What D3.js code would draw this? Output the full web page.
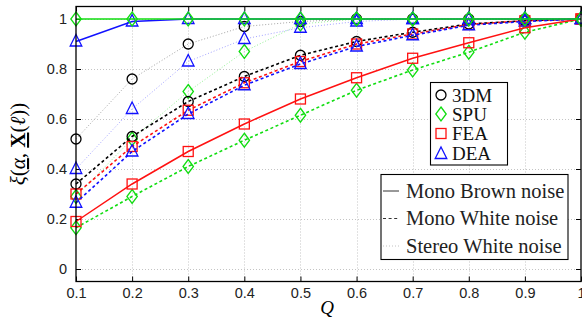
<!DOCTYPE html>
<html>
<head>
<meta charset="utf-8">
<script src="https://cdn.jsdelivr.net/npm/d3@7"></script>
<style>
  html, body { margin: 0; padding: 0; background: #fff; }
  svg { display: block; }
</style>
</head>
<body>
<svg id="chart" width="582" height="321"></svg>
<script>
// Quality factor Q on the x axis
const qValues = [0.1, 0.2, 0.3, 0.4, 0.5, 0.6, 0.7, 0.8, 0.9, 1.0];
const xTicks = [0.1, 0.2, 0.3, 0.4, 0.5, 0.6, 0.7, 0.8, 0.9, 1.0];
const yTicks = [0, 0.2, 0.4, 0.6, 0.8, 1];

const methods = ["3DM", "SPU", "FEA", "DEA"];
const methodColors = { "3DM": "#000000", "SPU": "#11dd11", "FEA": "#ff1111", "DEA": "#1111ff" };
const stereoColors = { "3DM": "#9a9a9a", "SPU": "#88ee88", "FEA": "#ff9999", "DEA": "#9999ff" };
const noiseTypes = ["Mono Brown noise", "Mono White noise", "Stereo White noise"];

// Mono Brown noise
const brownSPU = [1, 1, 1, 1, 1, 1, 1, 1, 1, 1];
const brownFEA = [0.19, 0.34, 0.47, 0.58, 0.68, 0.765, 0.843, 0.905, 0.965, 1];
const brownDEA = [0.91, 0.99, 1, 1, 1, 1, 1, 1, 1, 1];

// Mono White noise
const white3DM = [0.34, 0.53, 0.67, 0.77, 0.855, 0.91, 0.947, 0.98, 0.993, 1];
const whiteSPU = [0.165, 0.29, 0.41, 0.515, 0.615, 0.715, 0.796, 0.867, 0.947, 1];
const whiteFEA = [0.30, 0.49, 0.635, 0.745, 0.83, 0.90, 0.94, 0.978, 0.993, 1];
const whiteDEA = [0.265, 0.47, 0.62, 0.735, 0.82, 0.89, 0.935, 0.975, 0.99, 1];

// Stereo White noise
const stereo3DM = [0.52, 0.76, 0.90, 0.97, 0.99, 1, 1, 1, 1, 1];
const stereoSPU = [0.29, 0.52, 0.71, 0.87, 0.98, 1, 1, 1, 1, 1];
const stereoDEA = [0.40, 0.64, 0.83, 0.92, 0.965, 0.99, 1, 1, 1, 1];

const series = [
  { method: "3DM", noise: 2, values: stereo3DM },
  { method: "SPU", noise: 2, values: stereoSPU },
  { method: "DEA", noise: 2, values: stereoDEA },
  { method: "3DM", noise: 1, values: white3DM },
  { method: "SPU", noise: 1, values: whiteSPU },
  { method: "FEA", noise: 1, values: whiteFEA },
  { method: "DEA", noise: 1, values: whiteDEA },
  { method: "FEA", noise: 0, values: brownFEA },
  { method: "DEA", noise: 0, values: brownDEA },
  { method: "SPU", noise: 0, values: brownSPU }
];

const lineStyles = [
  { width: 1.5, dash: null },
  { width: 1.6, dash: "3,2.6" },
  { width: 0.9, dash: "1,2" }
];

const svg = d3.select("#chart");
const plotL = 76, plotR = 581, plotT = 6.5, plotB = 281.5;

const x = d3.scaleLinear().domain([0.1, 1]).range([plotL, plotR]);
const y = d3.scaleLinear().domain([-0.05, 1.05]).range([plotB, plotT]);
const fmt = d => String(+d.toFixed(1));

// grid
const grid = svg.append("g").attr("stroke", "#c4c4c4").attr("stroke-width", 1).attr("stroke-dasharray", "1,2");
grid.selectAll("line.gx").data(xTicks.slice(1, -1)).join("line")
  .attr("x1", d => Math.round(x(d)) + 0.5).attr("x2", d => Math.round(x(d)) + 0.5)
  .attr("y1", plotT).attr("y2", plotB);
grid.selectAll("line.gy").data(yTicks).join("line")
  .attr("y1", d => Math.round(y(d)) + 0.5).attr("y2", d => Math.round(y(d)) + 0.5)
  .attr("x1", plotL).attr("x2", plotR);

// axes with inward ticks on all four sides
const axisFont = "'Liberation Sans', Arial, sans-serif";
const yAxis = svg.append("g").attr("transform", `translate(${plotL},0)`)
  .call(d3.axisLeft(y).tickValues(yTicks).tickFormat(fmt).tickSize(-5).tickPadding(9));
const xAxis = svg.append("g").attr("transform", `translate(0,${plotB})`)
  .call(d3.axisBottom(x).tickValues(xTicks).tickFormat(fmt).tickSize(-5).tickPadding(6));
const yAxisR = svg.append("g").attr("transform", `translate(${plotR},0)`)
  .call(d3.axisRight(y).tickValues(yTicks).tickFormat("").tickSize(-5));
const xAxisT = svg.append("g").attr("transform", `translate(0,${plotT})`)
  .call(d3.axisTop(x).tickValues(xTicks).tickFormat("").tickSize(-5));
[yAxis, xAxis, yAxisR, xAxisT].forEach(a => {
  a.select(".domain").remove();
  a.selectAll(".tick line").attr("stroke", "#000").attr("stroke-width", 1);
  a.selectAll("text").attr("font-family", axisFont).attr("font-size", 14.5).attr("fill", "#222");
});

// marker shapes
function drawMarker(g, method, cx, cy, color) {
  const sw = 1.3;
  if (method === "3DM") {
    g.append("circle").attr("cx", cx).attr("cy", cy).attr("r", 5)
      .attr("fill", "none").attr("stroke", color).attr("stroke-width", sw);
  } else if (method === "SPU") {
    g.append("path").attr("d", `M${cx},${cy - 7}L${cx + 5.2},${cy}L${cx},${cy + 7}L${cx - 5.2},${cy}Z`)
      .attr("fill", "none").attr("stroke", color).attr("stroke-width", sw);
  } else if (method === "FEA") {
    g.append("rect").attr("x", cx - 5).attr("y", cy - 5).attr("width", 10).attr("height", 10)
      .attr("fill", "none").attr("stroke", color).attr("stroke-width", sw);
  } else {
    g.append("path").attr("d", `M${cx},${cy - 7}L${cx + 5.8},${cy + 4.5}L${cx - 5.8},${cy + 4.5}Z`)
      .attr("fill", "none").attr("stroke", color).attr("stroke-width", sw);
  }
}

const line = d3.line().x((d, i) => x(qValues[i])).y(d => y(d));
const plot = svg.append("g");
series.forEach(s => {
  const st = lineStyles[s.noise];
  const lineColor = s.noise === 2 ? stereoColors[s.method] : methodColors[s.method];
  const g = plot.append("g");
  g.append("path").attr("d", line(s.values)).attr("fill", "none")
    .attr("stroke", lineColor).attr("stroke-width", st.width)
    .attr("stroke-dasharray", st.dash);
  s.values.forEach((v, i) => drawMarker(g, s.method, x(qValues[i]), y(v), methodColors[s.method]));
});

// plot frame
svg.append("rect").attr("x", plotL).attr("y", plotT).attr("width", plotR - plotL).attr("height", plotB - plotT)
  .attr("fill", "none").attr("stroke", "#000").attr("stroke-width", 1.3);

const serif = "'Liberation Serif', 'DejaVu Serif', serif";

// method legend
const lg1 = svg.append("g");
lg1.append("rect").attr("x", 430.5).attr("y", 82.5).attr("width", 77).attr("height", 82.5)
  .attr("fill", "#fff").attr("stroke", "#000").attr("stroke-width", 1.1);
const rows1 = [95, 114, 133.5, 153];
methods.forEach((m, i) => {
  drawMarker(lg1, m, 441, rows1[i] + (m === "DEA" ? 1 : 0), methodColors[m]);
  lg1.append("text").attr("x", 452).attr("y", rows1[i] + 6.5).text(m)
    .attr("font-family", serif).attr("font-size", 19).attr("fill", "#111");
});

// noise legend
const lg2 = svg.append("g");
lg2.append("rect").attr("x", 381).attr("y", 174.5).attr("width", 187).attr("height", 85)
  .attr("fill", "#fff").attr("stroke", "#000").attr("stroke-width", 1.1);
const rows2 = [191, 218.5, 246];
const legendLineColors = ["#333", "#333", "#bbb"];
noiseTypes.forEach((n, i) => {
  const st = lineStyles[i];
  lg2.append("line").attr("x1", 383).attr("x2", 399).attr("y1", rows2[i]).attr("y2", rows2[i])
    .attr("stroke", legendLineColors[i]).attr("stroke-width", i === 2 ? 0.9 : 1)
    .attr("stroke-dasharray", st.dash);
  lg2.append("text").attr("x", 406).attr("y", rows2[i] + 6.5).text(n)
    .attr("font-family", serif).attr("font-size", 20.5).attr("fill", "#222");
});

// axis titles
svg.append("text").attr("x", 327).attr("y", 314).attr("text-anchor", "middle")
  .attr("font-family", serif).attr("font-style", "italic").attr("font-size", 19).text("Q");

const yl = svg.append("text").attr("transform", `translate(25,${(plotT + plotB) / 2}) rotate(-90)`)
  .attr("text-anchor", "middle").attr("font-family", serif).attr("font-size", 21);
yl.append("tspan").attr("font-style", "italic").text("ξ");
yl.append("tspan").text("(");
yl.append("tspan").attr("font-style", "italic").style("text-decoration", "underline").text("α");
yl.append("tspan").text(", ");
yl.append("tspan").attr("font-weight", "bold").style("text-decoration", "underline").text("X");
yl.append("tspan").text("(");
yl.append("tspan").attr("font-style", "italic").text("ℓ");
yl.append("tspan").text("))");
</script>
</body>
</html>
